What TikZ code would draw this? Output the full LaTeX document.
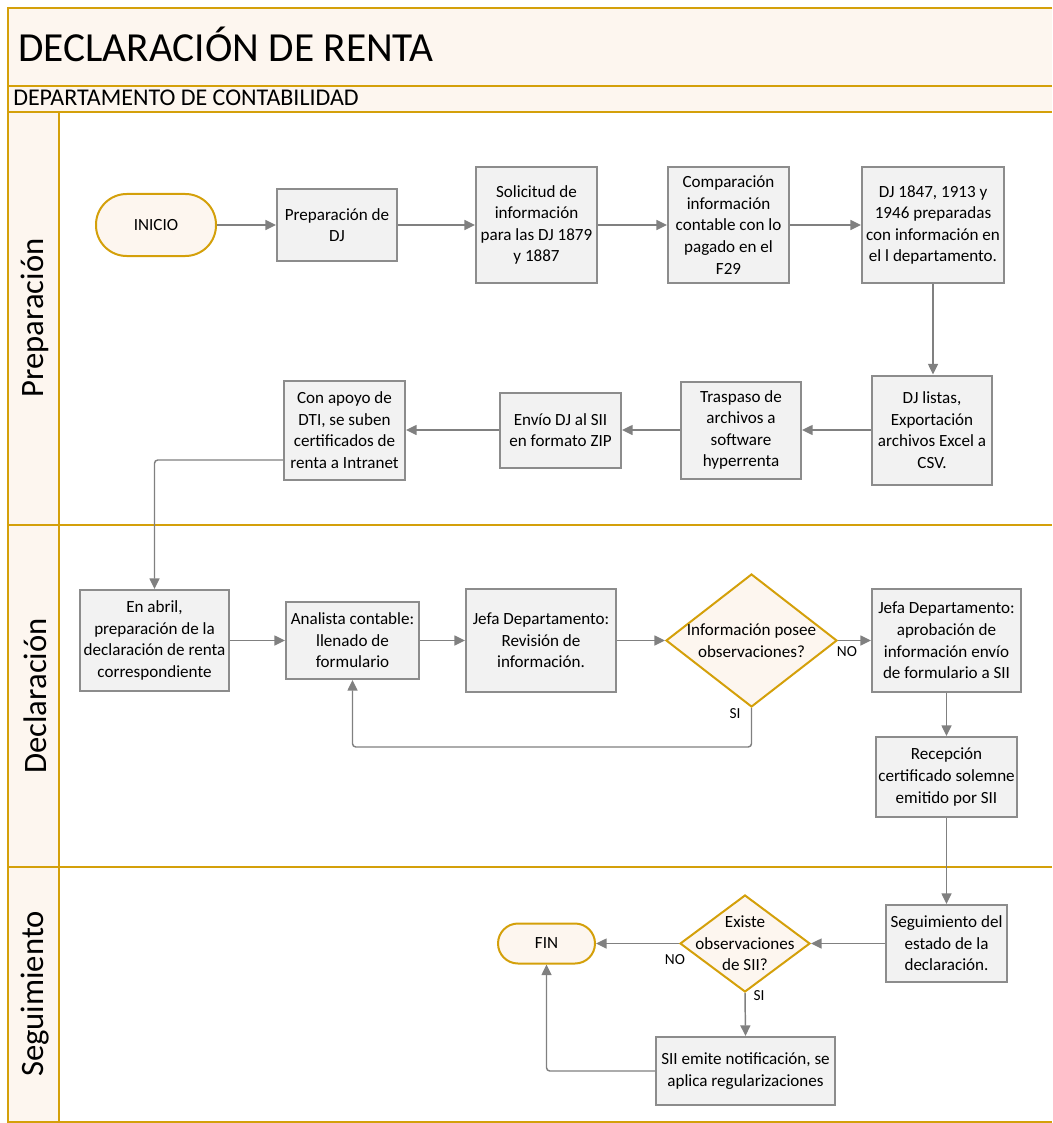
\documentclass[tikz,border=0pt]{standalone}
\usepackage{fontspec}
\setmainfont{Carlito}
\usetikzlibrary{shapes.geometric,arrows.meta,calc}

\definecolor{lanegold}{RGB}{212,160,10}
\definecolor{cream}{RGB}{253,246,239}
\definecolor{boxfill}{RGB}{242,242,242}
\definecolor{boxline}{RGB}{140,140,140}
\definecolor{arrowgray}{RGB}{128,128,128}

\newcommand\boxfont{\fontsize{12.8}{16.2}\selectfont}
\newcommand\titlefont{\fontsize{31}{36}\selectfont}
\newcommand\deptfont{\fontsize{18}{21}\selectfont}
\newcommand\lanefont{\fontsize{24.5}{28}\selectfont}
\newcommand\tagfont{\fontsize{11.5}{13}\selectfont}

\begin{document}
\begin{tikzpicture}[x=0.75pt,y=-0.75pt,
  lane/.style={draw=lanegold, line width=1.6pt},
  box/.style 2 args={draw=boxline, fill=boxfill, line width=1.5pt,
    minimum width=#1*0.75pt, minimum height=#2*0.75pt,
    inner sep=1pt, align=center, font=\boxfont},
  term/.style={draw=lanegold, fill=cream, line width=1.5pt,
    inner sep=1pt, align=center, font=\boxfont},
  decision/.style 2 args={diamond, draw=lanegold, fill=cream, line width=1.5pt,
    minimum width=#1*0.75pt, minimum height=#2*0.75pt, inner sep=0pt},
  dtext/.style={align=center, font=\boxfont, inner sep=0pt},
  tag/.style={font=\tagfont, inner sep=1pt},
  lanelabel/.style={rotate=90, font=\lanefont, inner sep=0pt},
  arr/.style={draw=arrowgray, line width=1.1pt, rounded corners=2.5pt,
    -{Triangle[length=8pt,width=7.5pt]}}]

\useasboundingbox (0,0) rectangle (1052,1123);

% pool frame, header bands and lanes
\fill[cream] (8,8) rectangle (1052,112);
\fill[cream] (8,112) rectangle (59,1122);
\draw[lane] (1052,8) -- (8,8) -- (8,1122) -- (1052,1122);
\draw[lane] (8,86) -- (1052,86);
\draw[lane] (8,112) -- (1052,112);
\draw[lane] (8,525) -- (1052,525);
\draw[lane] (8,867) -- (1052,867);
\draw[lane] (59,112) -- (59,1122);

\node[anchor=base west, inner sep=0pt, font=\titlefont] (title) at (18,62) {DECLARACIÓN DE RENTA};
\node[anchor=base west, inner sep=0pt, font=\deptfont] (dept) at (13,106) {DEPARTAMENTO DE CONTABILIDAD};

\node[lanelabel] (lprep) at (35,318) {Preparación};
\node[lanelabel] (ldecl) at (35,696) {Declaración};
\node[lanelabel] (lseg) at (35,994) {Seguimiento};

% lane 1: preparation
\node[term, minimum width=120*0.75pt, minimum height=62*0.75pt, rounded corners=23pt] (inicio) at (156,225) {INICIO};
\node[box={120}{72}] (prep) at (337,225) {Preparación de\\DJ};
\node[box={121}{116}] (sol) at (536.5,225) {Solicitud de\\información\\para las DJ 1879\\y 1887};
\node[box={121}{116}] (comp) at (728.5,225) {Comparación\\información\\contable con lo\\pagado en el\\F29};
\node[box={142}{116}] (dj) at (933,225) {DJ 1847, 1913 y\\1946 preparadas\\con información en\\el l departamento.};
\node[box={120}{109}] (listas) at (932,430) {DJ listas,\\Exportación\\archivos Excel a\\CSV.};
\node[box={120}{97}] (trasp) at (741,430) {Traspaso de\\archivos a\\software\\hyperrenta};
\node[box={121}{75}] (envio) at (560.5,430) {Envío DJ al SII\\en formato ZIP};
\node[box={121}{99}] (apoyo) at (344.5,430) {Con apoyo de\\DTI, se suben\\certificados de\\renta a Intranet};

% lane 2: declaration
\node[box={149}{101}] (abril) at (154.5,640.5) {En abril,\\preparación de la\\declaración de renta\\correspondiente};
\node[box={133}{77}] (ana) at (352.5,640.5) {Analista contable:\\llenado de\\formulario};
\node[box={150}{103}] (jrev) at (541,640.5) {Jefa Departamento:\\Revisión de\\información.};
\node[decision={171}{133}] (d1) at (751.5,640.5) {};
\node[dtext] (d1text) at (d1) {Información posee\\observaciones?};
\node[box={149}{103}] (japro) at (946.5,640.5) {Jefa Departamento:\\aprobación de\\información envío\\de formulario a SII};
\node[box={141}{80}] (recep) at (946.5,777) {Recepción\\certificado solemne\\emitido por SII};

% lane 3: follow-up
\node[box={121}{77}] (seg) at (946.5,943.5) {Seguimiento del\\estado de la\\declaración.};
\node[decision={130}{97}] (d2) at (745,943.5) {};
\node[dtext] (d2text) at (d2) {Existe\\observaciones\\de SII?};
\node[term, minimum width=97*0.75pt, minimum height=40*0.75pt, rounded corners=15pt] (fin) at (546.5,943.5) {FIN};
\node[box={179}{68}] (sii) at (745.5,1071) {SII emite notificación, se\\aplica regularizaciones};

% connectors
\draw[arr] (inicio.east) -- (prep.west);
\draw[arr] (prep.east) -- (sol.west);
\draw[arr] (sol.east) -- (comp.west);
\draw[arr] (comp.east) -- (dj.west);
\draw[arr] (dj.south) -- (dj.south |- listas.north);
\draw[arr] (listas.west) -- (trasp.east);
\draw[arr] (trasp.west) -- (envio.east);
\draw[arr] (envio.west) -- (apoyo.east);
\draw[arr] ($(apoyo.west)+(0,30)$) -| (abril.north);

\draw[arr] (abril.east) -- (ana.west);
\draw[arr] (ana.east) -- (jrev.west);
\draw[arr] (jrev.east) -- (d1.west);
\draw[arr] (d1.east) -- (japro.west);
\node[tag] (no1) at (847,652) {NO};
\draw[arr] (d1.south) -- ++(0,39) -| (ana.south);
\node[tag] (si1) at (735,714) {SI};
\draw[arr] (japro.south) -- (recep.north);

\draw[arr] (recep.south) -- (seg.north);
\draw[arr] (seg.west) -- (d2.east);
\draw[arr] (d2.west) -- (fin.east);
\node[tag] (no2) at (675,960) {NO};
\draw[arr] (d2.south) -- (sii.north);
\node[tag] (si2) at (759,996) {SI};
\draw[arr] (sii.west) -| (fin.south);

\end{tikzpicture}
\end{document}
